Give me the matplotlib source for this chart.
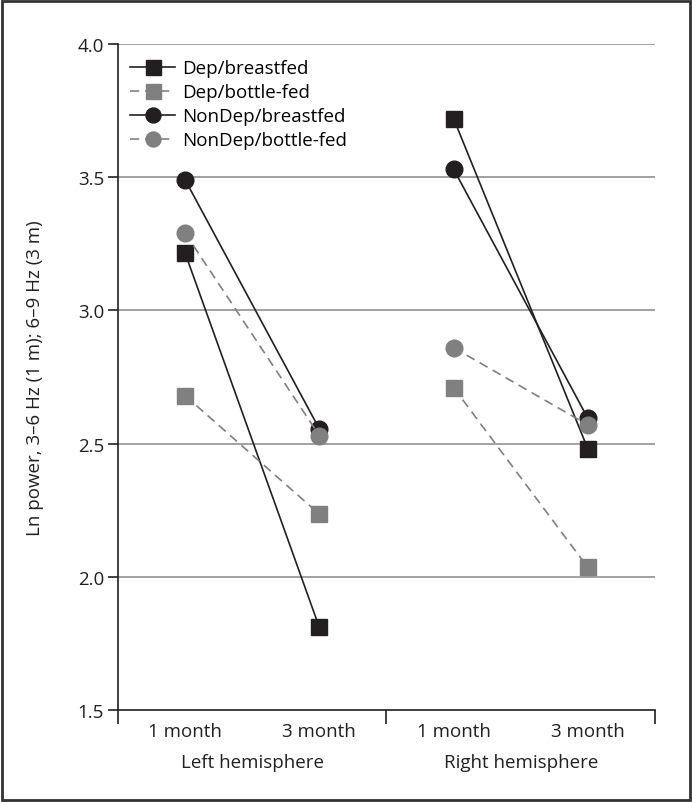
import numpy as np
import matplotlib.pyplot as plt
from matplotlib.patches import Rectangle

plt.rcParams['font.family'] = ['Open Sans', 'DejaVu Sans']

# categories
months = ["1 month", "3 month", "1 month", "3 month"]
hemispheres = ["Left hemisphere", "Right hemisphere"]

# values (left 1m, left 3m, right 1m, right 3m)
dep_breast = [3.215, 1.81, 3.72, 2.48]
dep_bottle = [2.68, 2.235, 2.71, 2.035]
nondep_breast = [3.49, 2.555, 3.53, 2.595]
nondep_bottle = [3.29, 2.53, 2.86, 2.57]

black = '#231f20'
grey = '#808080'
fs = 13.5

fig = plt.figure(figsize=(6.92, 8.03), dpi=100)
ax = fig.add_axes([0.1705, 0.1146, 0.776, 0.8294])

ax.set_ylim(1.5, 4.0)
ax.set_xlim(0, 4)
ax.set_yticks([1.5, 2.0, 2.5, 3.0, 3.5, 4.0])
ax.set_yticklabels(['1.5', '2.0', '2.5', '3.0', '3.5', '4.0'])
for yv in [2.0, 2.5, 3.0, 3.5, 4.0]:
    ax.axhline(yv, color='#9a9a9a', lw=1.3, zorder=0)

x = np.array([0.5, 1.5, 2.5, 3.5])
dash = (0, (5.5, 3.5))
series = [
    ("Dep/breastfed", dep_breast, black, 's', '-'),
    ("Dep/bottle-fed", dep_bottle, grey, 's', dash),
    ("NonDep/breastfed", nondep_breast, black, 'o', '-'),
    ("NonDep/bottle-fed", nondep_bottle, grey, 'o', dash),
]
for name, vals, col, mk, ls in series:
    # left and right hemisphere pairs, drawn separately
    ax.plot(x[:2], vals[:2], color=col, ls=ls, lw=1.2, marker=mk, ms=12,
            mec=col, mfc=col, label=name)
    ax.plot(x[2:], vals[2:], color=col, ls=ls, lw=1.2, marker=mk, ms=12,
            mec=col, mfc=col)

ax.legend(loc='upper left', bbox_to_anchor=(-0.002, 0.997), frameon=False,
          fontsize=fs, handlelength=2.4, handletextpad=0.4, labelspacing=0.32,
          borderaxespad=0.3, markerscale=0.9)

for s in ['top', 'right']:
    ax.spines[s].set_visible(False)
for s in ['left', 'bottom']:
    ax.spines[s].set_color(black)
    ax.spines[s].set_linewidth(1.2)

ax.tick_params(axis='y', direction='out', length=7, width=1.2, color=black,
               labelsize=fs, labelcolor=black, pad=3)
ax.set_xticks([0, 2, 4])
ax.set_xticklabels([])
ax.tick_params(axis='x', which='major', direction='out', length=10, width=1.2, color=black)
ax.set_xticks(x, minor=True)
ax.set_xticklabels(months, minor=True)
ax.tick_params(axis='x', which='minor', length=0, labelsize=fs, pad=9, labelcolor=black)

for i, h in enumerate(hemispheres):
    ax.text(1 + 2 * i, -0.078, h, transform=ax.get_xaxis_transform(),
            ha='center', va='center', fontsize=fs, color=black)

ax.set_ylabel("Ln power, 3–6 Hz (1 m); 6–9 Hz (3 m)", fontsize=fs, color=black, labelpad=24)

fig.patches.append(Rectangle((0.003, 0.003), 0.994, 0.994, transform=fig.transFigure,
                             fill=False, edgecolor='#333333', lw=2))

fig.savefig('out.png', dpi=100)
